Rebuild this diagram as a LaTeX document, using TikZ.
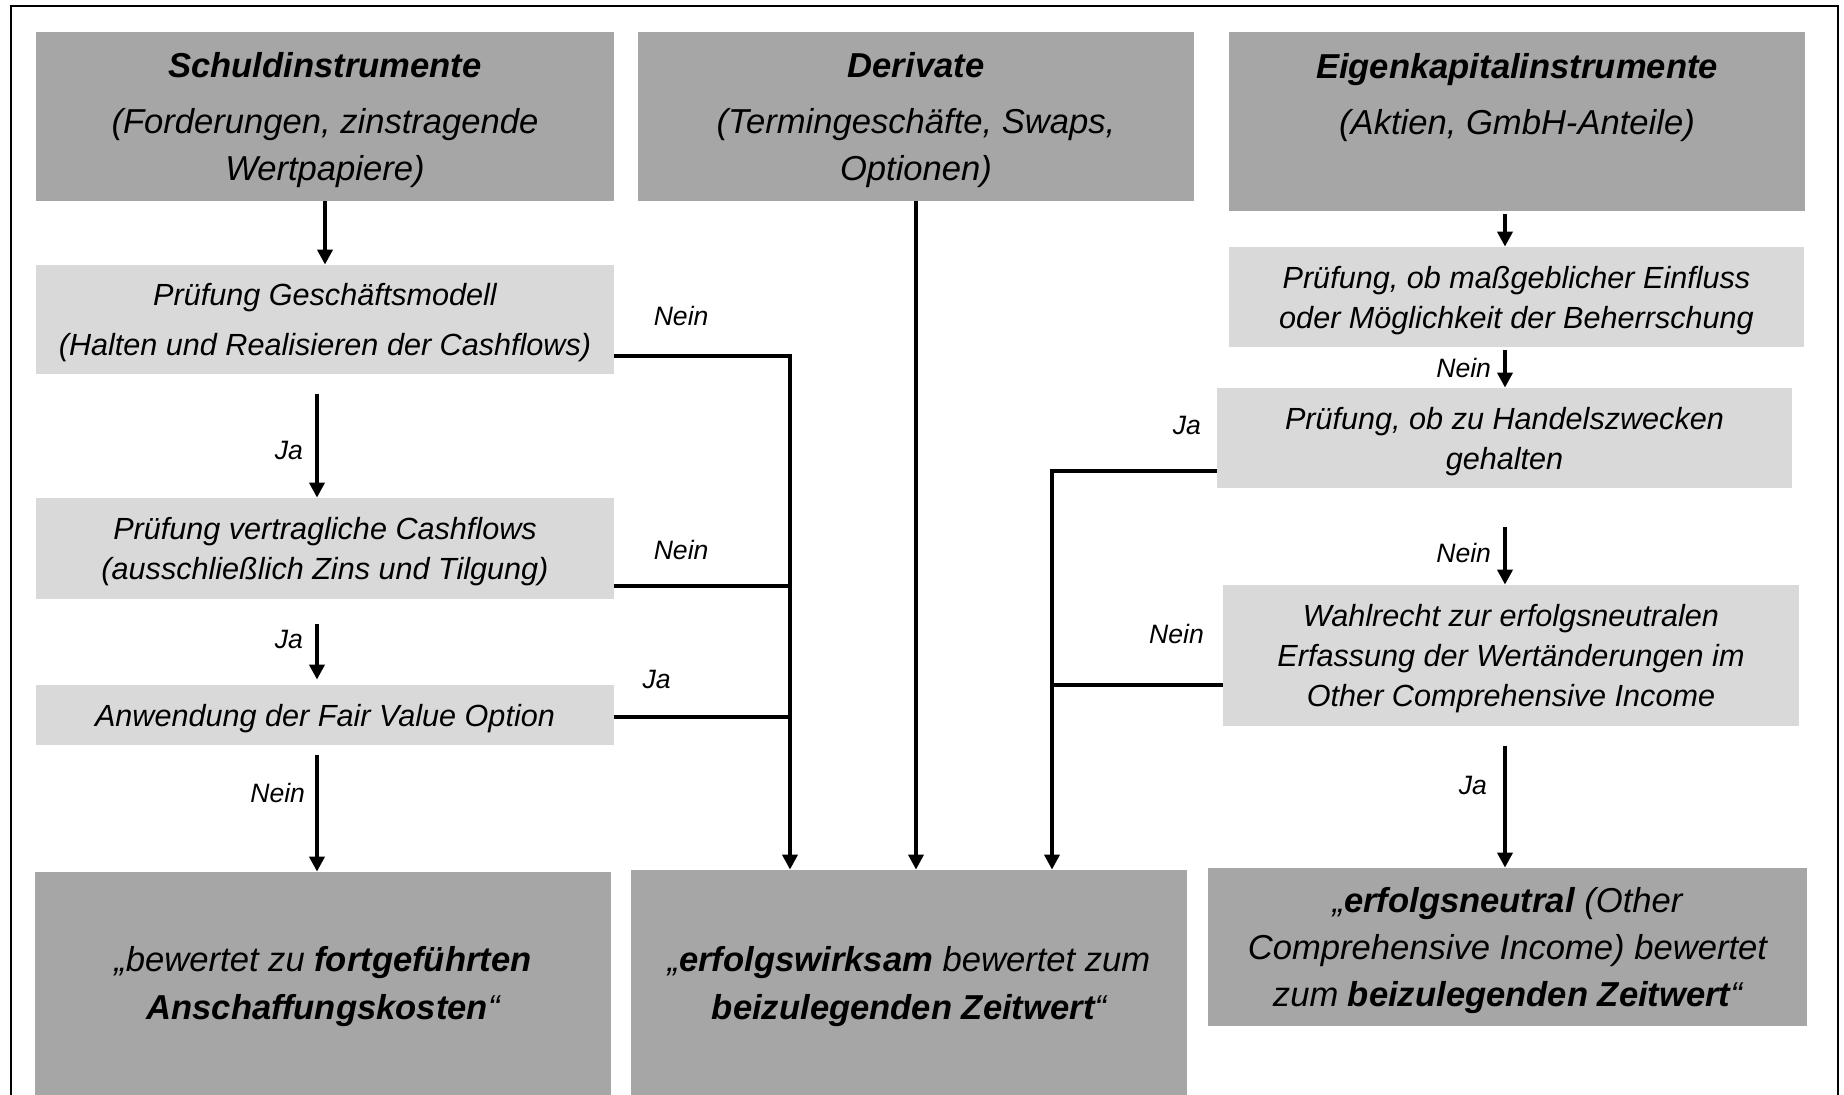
\documentclass[tikz,border=0pt]{standalone}
\usepackage{fontspec}
\setmainfont{Liberation Sans}
\usetikzlibrary{arrows.meta}
\definecolor{boxdark}{HTML}{A6A6A6}
\definecolor{boxlight}{HTML}{D9D9D9}

\begin{document}
\begin{tikzpicture}[x=0.5pt,y=-0.5pt,
    darkbox/.style={fill=boxdark,inner sep=0pt,align=center,font=\fontsize{17.3}{23.5}\selectfont\itshape},
    headbox/.style={darkbox,text depth=0pt},
    lightbox/.style={fill=boxlight,inner sep=0pt,align=center,text depth=0pt,font=\fontsize{15.3}{20}\selectfont\itshape},
    lbl/.style={inner sep=0pt,font=\fontsize{13.3}{16}\selectfont\itshape},
    conn/.style={line width=2pt},
    arr/.style={conn,-{Triangle[width=7.5pt,length=7.5pt]}}]
\useasboundingbox (0,0) rectangle (1844,1095);
\draw[line width=1pt] (11,1110) |- (1838,6) -- (1838,1110);

% Kopfzeile
\node[headbox,minimum width=289pt,minimum height=84.5pt] (schuld) at (325,116.5)
    {{\bfseries Schuldinstrumente}\\[4.75pt](Forderungen, zinstragende\\Wertpapiere)};
\node[headbox,minimum width=278pt,minimum height=84.5pt] (deriv) at (916,116.5)
    {{\bfseries Derivate}\\[4.75pt](Termingeschäfte, Swaps,\\Optionen)};
\node[headbox,text height=13.5pt,minimum width=288pt,minimum height=89.5pt] (eigen) at (1517,121.5)
    {{\bfseries Eigenkapitalinstrumente}\\[4.75pt](Aktien, GmbH-Anteile)};

% Pruefungen links
\node[lightbox,minimum width=289pt,minimum height=54.5pt] (gm) at (325,319.5)
    {Prüfung Geschäftsmodell\\[5pt](Halten und Realisieren der Cashflows)};
\node[lightbox,minimum width=289pt,minimum height=50.5pt] (vertr) at (325,548.5)
    {Prüfung vertragliche Cashflows\\(ausschließlich Zins und Tilgung)};
\node[lightbox,minimum width=289pt,minimum height=30pt] (fvo) at (325,715)
    {Anwendung der Fair Value Option};

% Pruefungen rechts
\node[lightbox,minimum width=287.5pt,minimum height=50pt] (einfl) at (1516.5,297)
    {Prüfung, ob maßgeblicher Einfluss\\oder Möglichkeit der Beherrschung};
\node[lightbox,minimum width=287.5pt,minimum height=50pt] (handel) at (1504.5,438)
    {Prüfung, ob zu Handelszwecken\\gehalten};
\node[lightbox,minimum width=288pt,minimum height=70.5pt] (wahl) at (1511,655.5)
    {Wahlrecht zur erfolgsneutralen\\Erfassung der Wertänderungen im\\Other Comprehensive Income};

% Ergebnisse
\node[darkbox,minimum width=288pt,minimum height=115pt,font=\fontsize{17.3}{24}\selectfont\itshape] (amort) at (323,987)
    {„bewertet zu {\bfseries fortgeführten}\\{\bfseries Anschaffungskosten}“};
\node[darkbox,minimum width=278pt,minimum height=117pt,font=\fontsize{17.3}{24}\selectfont\itshape] (fvpl) at (909,987)
    {„{\bfseries erfolgswirksam} bewertet zum\\{\bfseries beizulegenden Zeitwert}“};
\node[headbox,minimum width=299.5pt,minimum height=79pt] (fvoci) at (1507.5,947)
    {„{\bfseries erfolgsneutral} (Other\\Comprehensive Income) bewertet\\zum {\bfseries beizulegenden Zeitwert}“};

\coordinate (colL) at (317,0);
\coordinate (colR) at (1505,0);
\coordinate (jGM) at (790,356);
\coordinate (jVC) at (790,586);
\coordinate (jFV) at (790,717);
\coordinate (jHZ) at (1052,471);
\coordinate (jWR) at (1052,685);

% linke Spalte
\draw[arr] (schuld) -- (gm);
\draw[arr,shorten <=10pt] (colL |- gm.south) -- node[lbl,pos=0.62,left=6pt]{Ja} (colL |- vertr.north);
\draw[arr,shorten <=12.5pt,shorten >=2.5pt] (colL |- vertr.south) -- node[lbl,pos=0.47,left=6pt]{Ja} (colL |- fvo.north);
\draw[arr,shorten <=5pt] (colL |- fvo.south) -- node[lbl,pos=0.38,left=5pt]{Nein} (colL |- amort.north);

% Sammelleitung erfolgswirksam
\draw[arr] (gm.east |- jGM) -- node[lbl,pos=0.38,above=14pt]{Nein} (jGM) -- (jGM |- fvpl.north);
\draw[conn] (vertr.east |- jVC) -- node[lbl,pos=0.38,above=12pt]{Nein} (jVC);
\draw[conn] (fvo.east |- jFV) -- node[lbl,pos=0.24,above=13pt]{Ja} (jFV);
\draw[arr] (deriv) -- (deriv |- fvpl.north);
\draw[arr] (handel.west |- jHZ) -- node[lbl,pos=0.18,above=17pt]{Ja} (jHZ) -- (jHZ |- fvpl.north);
\draw[conn] (wahl.west |- jWR) -- node[lbl,pos=0.27,above=19.5pt]{Nein} (jWR);

% rechte Spalte
\draw[arr,shorten <=1.5pt] (colR |- eigen.south) -- (colR |- einfl.north);
\draw[arr,shorten <=1.5pt] (colR |- einfl.south) -- node[lbl,left=6pt]{Nein} (colR |- handel.north);
\draw[arr,shorten <=19.5pt] (colR |- handel.south) -- node[lbl,pos=0.67,left=6pt]{Nein} (colR |- wahl.north);
\draw[arr,shorten <=10pt] (colR |- wahl.south) -- node[lbl,pos=0.42,left=8pt]{Ja} (colR |- fvoci.north);
\end{tikzpicture}
\end{document}
